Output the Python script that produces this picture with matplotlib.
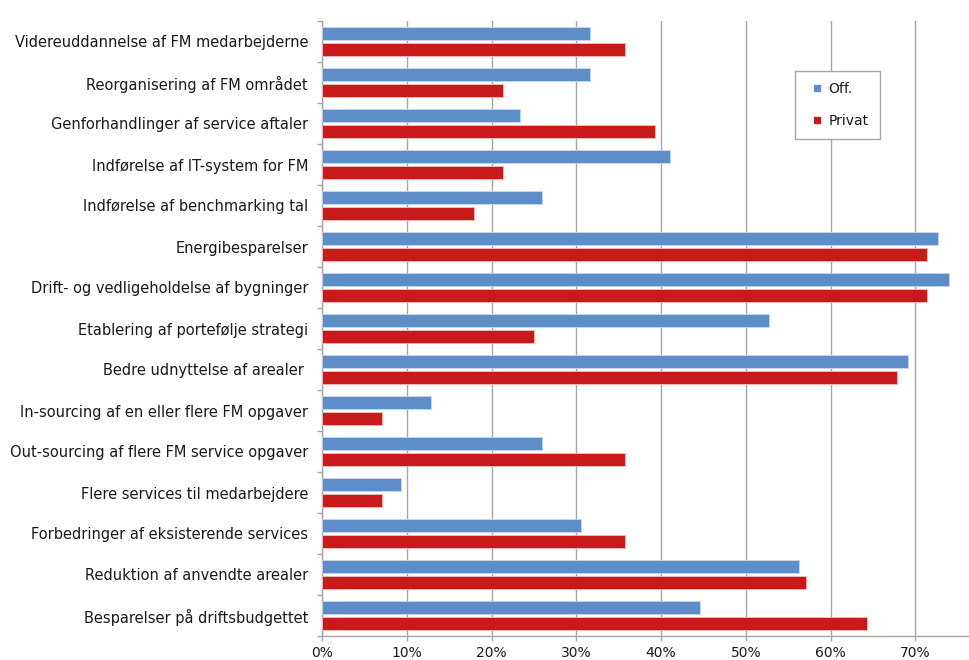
import numpy as np
import matplotlib.pyplot as plt
from matplotlib.lines import Line2D

# Categories (top to bottom)
categories = [
    "Videreuddannelse af FM medarbejderne",
    "Reorganisering af FM området",
    "Genforhandlinger af service aftaler",
    "Indførelse af IT-system for FM",
    "Indførelse af benchmarking tal",
    "Energibesparelser",
    "Drift- og vedligeholdelse af bygninger",
    "Etablering af portefølje strategi",
    "Bedre udnyttelse af arealer ",
    "In-sourcing af en eller flere FM opgaver",
    "Out-sourcing af flere FM service opgaver",
    "Flere services til medarbejdere",
    "Forbedringer af eksisterende services",
    "Reduktion af anvendte arealer",
    "Besparelser på driftsbudgettet",
]

# Share of respondents
off_values = [0.316, 0.316, 0.234, 0.411, 0.259, 0.727, 0.740, 0.528,
              0.692, 0.129, 0.259, 0.093, 0.306, 0.563, 0.446]
privat_values = [0.357, 0.214, 0.393, 0.214, 0.179, 0.714, 0.714, 0.250,
                 0.679, 0.071, 0.357, 0.071, 0.357, 0.571, 0.643]

blue = "#5e8ec8"
red = "#c8191b"
grey = "#a6a6a6"
text_col = "#1a1a1a"

fig = plt.figure(figsize=(9.69, 6.6), dpi=100)
ax = fig.add_axes([322 / 969, 24 / 660, 678 / 969, 615 / 660])

n = len(categories)
y = np.arange(n)
h = 0.32
off_ = 0.19

ax.barh(y - off_, off_values, height=h, color=blue, edgecolor="#c9d7ec",
        linewidth=0.6, zorder=3)
ax.barh(y + off_, privat_values, height=h, color=red, edgecolor="#eec0c0",
        linewidth=0.6, zorder=3)

ax.set_ylim(n - 0.5, -0.5)
ax.set_xlim(0, 0.8)

# category labels sit between the boundary ticks
ax.set_yticks(y)
ax.set_yticklabels(categories, fontsize=10.5, color=text_col)
ax.set_yticks(np.arange(n + 1) - 0.5, minor=True)
ax.tick_params(axis="y", which="major", length=0, pad=10)
ax.tick_params(axis="y", which="minor", length=3.5, color=grey, width=1)

ticks = np.arange(0, 0.8, 0.1)
ax.set_xticks(ticks)
ax.set_xticklabels([f"{int(round(t * 100))}%" for t in ticks],
                   fontsize=10, color=text_col)
ax.tick_params(axis="x", length=3.5, color=grey, width=1, pad=4)

ax.grid(axis="x", color=grey, linewidth=1, zorder=0)
for s in ["top", "right"]:
    ax.spines[s].set_visible(False)
for s in ["left", "bottom"]:
    ax.spines[s].set_color(grey)
    ax.spines[s].set_linewidth(1)

handles = [Line2D([], [], ls="none", marker="s", markersize=4,
                  markerfacecolor=blue, markeredgecolor=blue, label="Off."),
           Line2D([], [], ls="none", marker="s", markersize=4,
                  markerfacecolor=red, markeredgecolor=red, label="Privat")]
leg = ax.legend(handles=handles, loc="upper left",
                bbox_to_anchor=(473 / 678, 1 - 50 / 615),
                fontsize=10, frameon=True, fancybox=False,
                handlelength=1.6, handletextpad=0.0,
                labelspacing=1.3, borderpad=0.8, borderaxespad=0)
leg.get_frame().set_edgecolor(grey)
leg.get_frame().set_linewidth(1)
leg.get_frame().set_alpha(1)
for t in leg.get_texts():
    t.set_color(text_col)

fig.savefig("out.png", dpi=100)
